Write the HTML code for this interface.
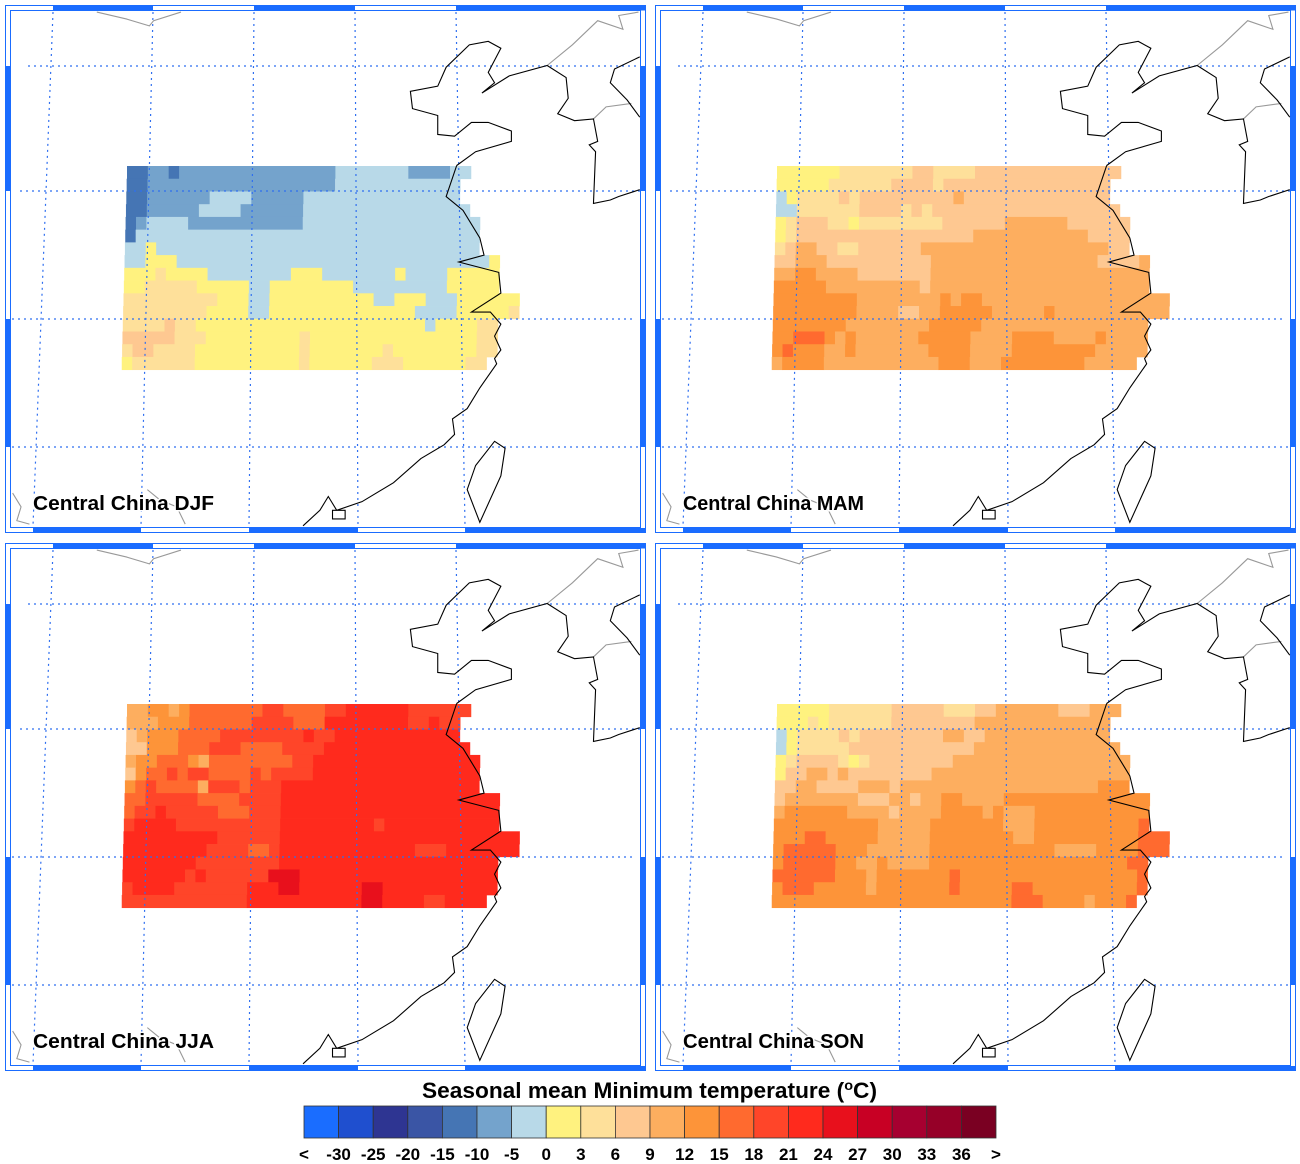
<!DOCTYPE html>
<html><head><meta charset="utf-8"><style>
html,body{margin:0;padding:0;background:#fff;}
svg{display:block;font-family:"Liberation Sans",Arial,sans-serif;}
</style></head><body>
<svg id="s" width="1300" height="1164" viewBox="0 0 1300 1164" xmlns="http://www.w3.org/2000/svg">
<defs>
<g id="frame">
  <rect x="5.5" y="5.5" width="640" height="527" fill="none" stroke="#1a6cff" stroke-width="1"/>
  <rect x="10.5" y="10.5" width="630" height="517" fill="none" stroke="#1a6cff" stroke-width="1"/>
  <g fill="#1a6cff">
    <rect x="53" y="6" width="100" height="4.5"/><rect x="254" y="6" width="101" height="4.5"/><rect x="456" y="6" width="189" height="4.5"/>
    <rect x="33" y="528" width="108" height="4.5"/><rect x="249" y="528" width="109" height="4.5"/><rect x="465" y="528" width="180" height="4.5"/>
    <rect x="6" y="66" width="4.5" height="125"/><rect x="6" y="319" width="4.5" height="128"/>
    <rect x="640.5" y="66" width="4.5" height="125"/><rect x="640.5" y="319" width="4.5" height="128"/>
  </g>
  <g stroke="#2f6ff0" stroke-width="1.2" stroke-dasharray="2,4" fill="none">
    <line x1="28" y1="66" x2="640" y2="66"/><line x1="20" y1="191" x2="640" y2="191"/>
    <line x1="12" y1="319" x2="632" y2="319"/><line x1="12" y1="447" x2="640" y2="447"/>
    <line x1="53" y1="12" x2="33" y2="526"/><line x1="153" y1="12" x2="141" y2="526"/>
    <line x1="254" y1="12" x2="249" y2="526"/><line x1="355" y1="12" x2="358" y2="526"/>
    <line x1="456" y1="12" x2="465" y2="526"/>
  </g>
</g>
<g id="coast">
 <g transform="scale(0.4209,0.3448)" fill="none" stroke-width="1.1">
  <path vector-effect="non-scaling-stroke" stroke="#999" d="M230,35 L300,55 L355,75 L365,60 L430,35 M1300,190 L1360,130 L1420,60 L1480,85 L1470,45 L1517,35 M1410,345 L1440,310 L1500,300 M30,1430 L50,1470 L40,1510 L70,1520 M350,1420 L380,1450 L420,1470 L440,1520"/>
  <path vector-effect="non-scaling-stroke" stroke="#000" d="M1085,480 L1130,440 L1215,410 L1215,380 L1160,355 L1120,355 L1080,395 L1040,390 L1040,335 L980,315 L975,265 L1040,250 L1060,195 L1115,130 L1160,120 L1190,140 L1160,210 L1175,240 L1145,270 L1210,220 L1300,190 L1345,225 L1350,285 L1325,330 L1365,350 L1410,345 L1420,410 L1400,420 L1415,440 L1410,590 L1450,580 L1470,570 L1520,550 M1520,340 L1490,290 L1450,240 L1460,200 L1520,165 M1085,480 L1060,570 L1100,610 L1140,690 L1150,740 L1090,760 L1185,790 L1190,850 L1120,905 L1165,905 L1190,940 L1175,975 L1190,1015 L1175,1040 L1180,1055 L1140,1125 L1110,1185 L1075,1215 L1080,1260 L1055,1290 L1000,1330 L935,1400 L860,1455 L800,1480 L780,1440 L760,1480 L720,1525 M1175,1280 L1200,1300 L1190,1380 L1140,1515 L1110,1420 L1130,1350 Z M790,1480 L820,1480 L820,1505 L790,1505 Z"/>
 </g>
</g>
</defs>
<g id="panels"></g>
<text x="422" y="1098" font-size="22" font-weight="bold" textLength="455" lengthAdjust="spacingAndGlyphs">Seasonal mean Minimum temperature (<tspan font-size="14" dy="-8">o</tspan><tspan dy="8">C)</tspan></text>
<g id="cbar"></g>
</svg>
<script>
var col={A:'#4575b4',B:'#74a3cc',C:'#b8d9e8',Y:'#fff27f',P:'#fee09a',Q:'#fec891',R:'#fdae5f',S:'#fd9439',T:'#ff6a2f',U:'#ff4529',V:'#ff2a1d',W:'#e8101c'};
var D={
DJF:["A2B2A1B15C7B4C2","A2B18C12","A2B6C4B5C15","A2B5C4B6C16","A1B1C4B11C17","A1C33","C2Y1C31","C2Y3C30Y1","Y3P1Y4C8Y3C7Y1C4Y5","Y2P5Y5C2Y8C9Y5","P9Y3C2Y10C2Y3C3Y6","P8Y4C2Y14C4Y5P1","P4Q1P2Y22C1Y4P2","Q5P3Y9P1Y16P2","P1Q2P4Y10P1Y7P1Y8P2","Y1P6Y10P1Y6P3Y6P2"],
MAM:["Y6P7Q2P4Q14","Y5P6Q4P1Q16","C1Y1P4Q1P1Q9R1Q14","C2P6Q4P1Q1P1Q18","Y1P1Q3P2Y1P8Q6R6Q6","Y1P1Q17R11Q4","P1Q1R2Q2P2Q6R18Q2","Q2R3Q10R16Q4R1","R2S2R4Q7R21","S5R9Q1R21","S8R8S1R1S2R18","S8R4Q2R2S5R5S1R11","S7R8S5R16","S2T3S1R1S1R6S5R4S4R4S1R4","S1T1S3R2S1R7S4R4S8R5","R1S4R11S3R3S8R5"],
JJA:["R2S2R1S1T7U2T4U2V6U6","R3S3T6U4T3V8U2V1U2","Q1R1S3T4U8V1U2V12","Q2S3T3U3T4U4V14","R1S2T3S1R1T8U2V16","Q1S1T2U1T1U2T4U1T1U4V16","S1T1U1T4R1U3T1U3V19","T2U5T4U4V21","T1U2V1U5T3U3V21","U1V4U10V9U1V11","V9U6V23","V8U4T2U1V13U3V7","V7U8V21","V6U1V1U6W3V19","U1V4U7V3W2V6W2V11","U12V11W2V4U2V4"],
SON:["Y5P6Q5P3Q2R6Q3R3","Y3P1Y1P6Q8R13","C1Y1P4Q1P1Q8R2Q2R12","C1Y1P5Q12R14","Y1P1Q4P1Y1P1Q8R17","Y1Q2R2Q1R1Q8R19","Q2R2Q4R3Q1R19S3","Q1R7Q3R2Q1R2S2R4S14","R1S6R4Q1R4S4R1S1R3S11","S10R5S7R3S10T1","S3T2S5R5S8R2S10T3","S1T5S3R6S12R4S4T3","S1T5S2R2S1R4S19T2","T6S3R1S7T1S17T1","S1T3S5R1S7T1S5T2S10T1","S23T3S4R1S3T1"]};
var P=[['DJF',0,0],['MAM',650,0],['JJA',0,538],['SON',650,538]];
var out='';
P.forEach(function(p){
  var ox=p[1],oy=p[2];
  out+='<g transform="translate('+ox+','+oy+')">';
  var rows=D[p[0]];
  for(var r=0;r<16;r++){
    var re=/([A-Z])(\d+)/g,m,c=0;
    var y=166+r*12.73, sh=-r*0.35;
    while((m=re.exec(rows[r]))){
      var n=+m[2],x=127+sh+c*10.42;
      out+='<rect x="'+x.toFixed(2)+'" y="'+y.toFixed(2)+'" width="'+(n*10.42+0.4).toFixed(2)+'" height="13.1" fill="'+col[m[1]]+'"/>';
      c+=n;
    }
  }
  out+='<use href="#frame"/><use href="#coast"/>';
  out+='<text x="33" y="510" font-size="20" font-weight="bold" textLength="181" lengthAdjust="spacingAndGlyphs" stroke="#fff" stroke-width="3" paint-order="stroke">Central China '+p[0]+'</text>';
  out+='</g>';
});
document.getElementById('panels').innerHTML=out;
var cb=['#1a6dff','#1f4fcf','#2e3592','#3a55a5','#4575b4','#74a3cc','#b8d9e8','#fff27f','#fee09a','#fec891','#fdae5f','#fd9439','#ff6a2f','#ff4529','#ff2a1d','#e8101c','#c80024','#a60030','#960028','#7a0022'];
var lab=['<','-30','-25','-20','-15','-10','-5','0','3','6','9','12','15','18','21','24','27','30','33','36','>'];
var w=34.6,o='';
cb.forEach(function(c,i){o+='<rect x="'+(304+i*w).toFixed(1)+'" y="1106" width="'+w+'" height="32" fill="'+c+'" stroke="#333" stroke-width="0.8"/>';});
lab.forEach(function(l,i){o+='<text x="'+(304+i*w).toFixed(1)+'" y="1160" text-anchor="middle" font-size="17" font-weight="bold">'+l.replace('<','&lt;').replace('>','&gt;')+'</text>';});
document.getElementById('cbar').innerHTML=o;
</script>
</body></html>
